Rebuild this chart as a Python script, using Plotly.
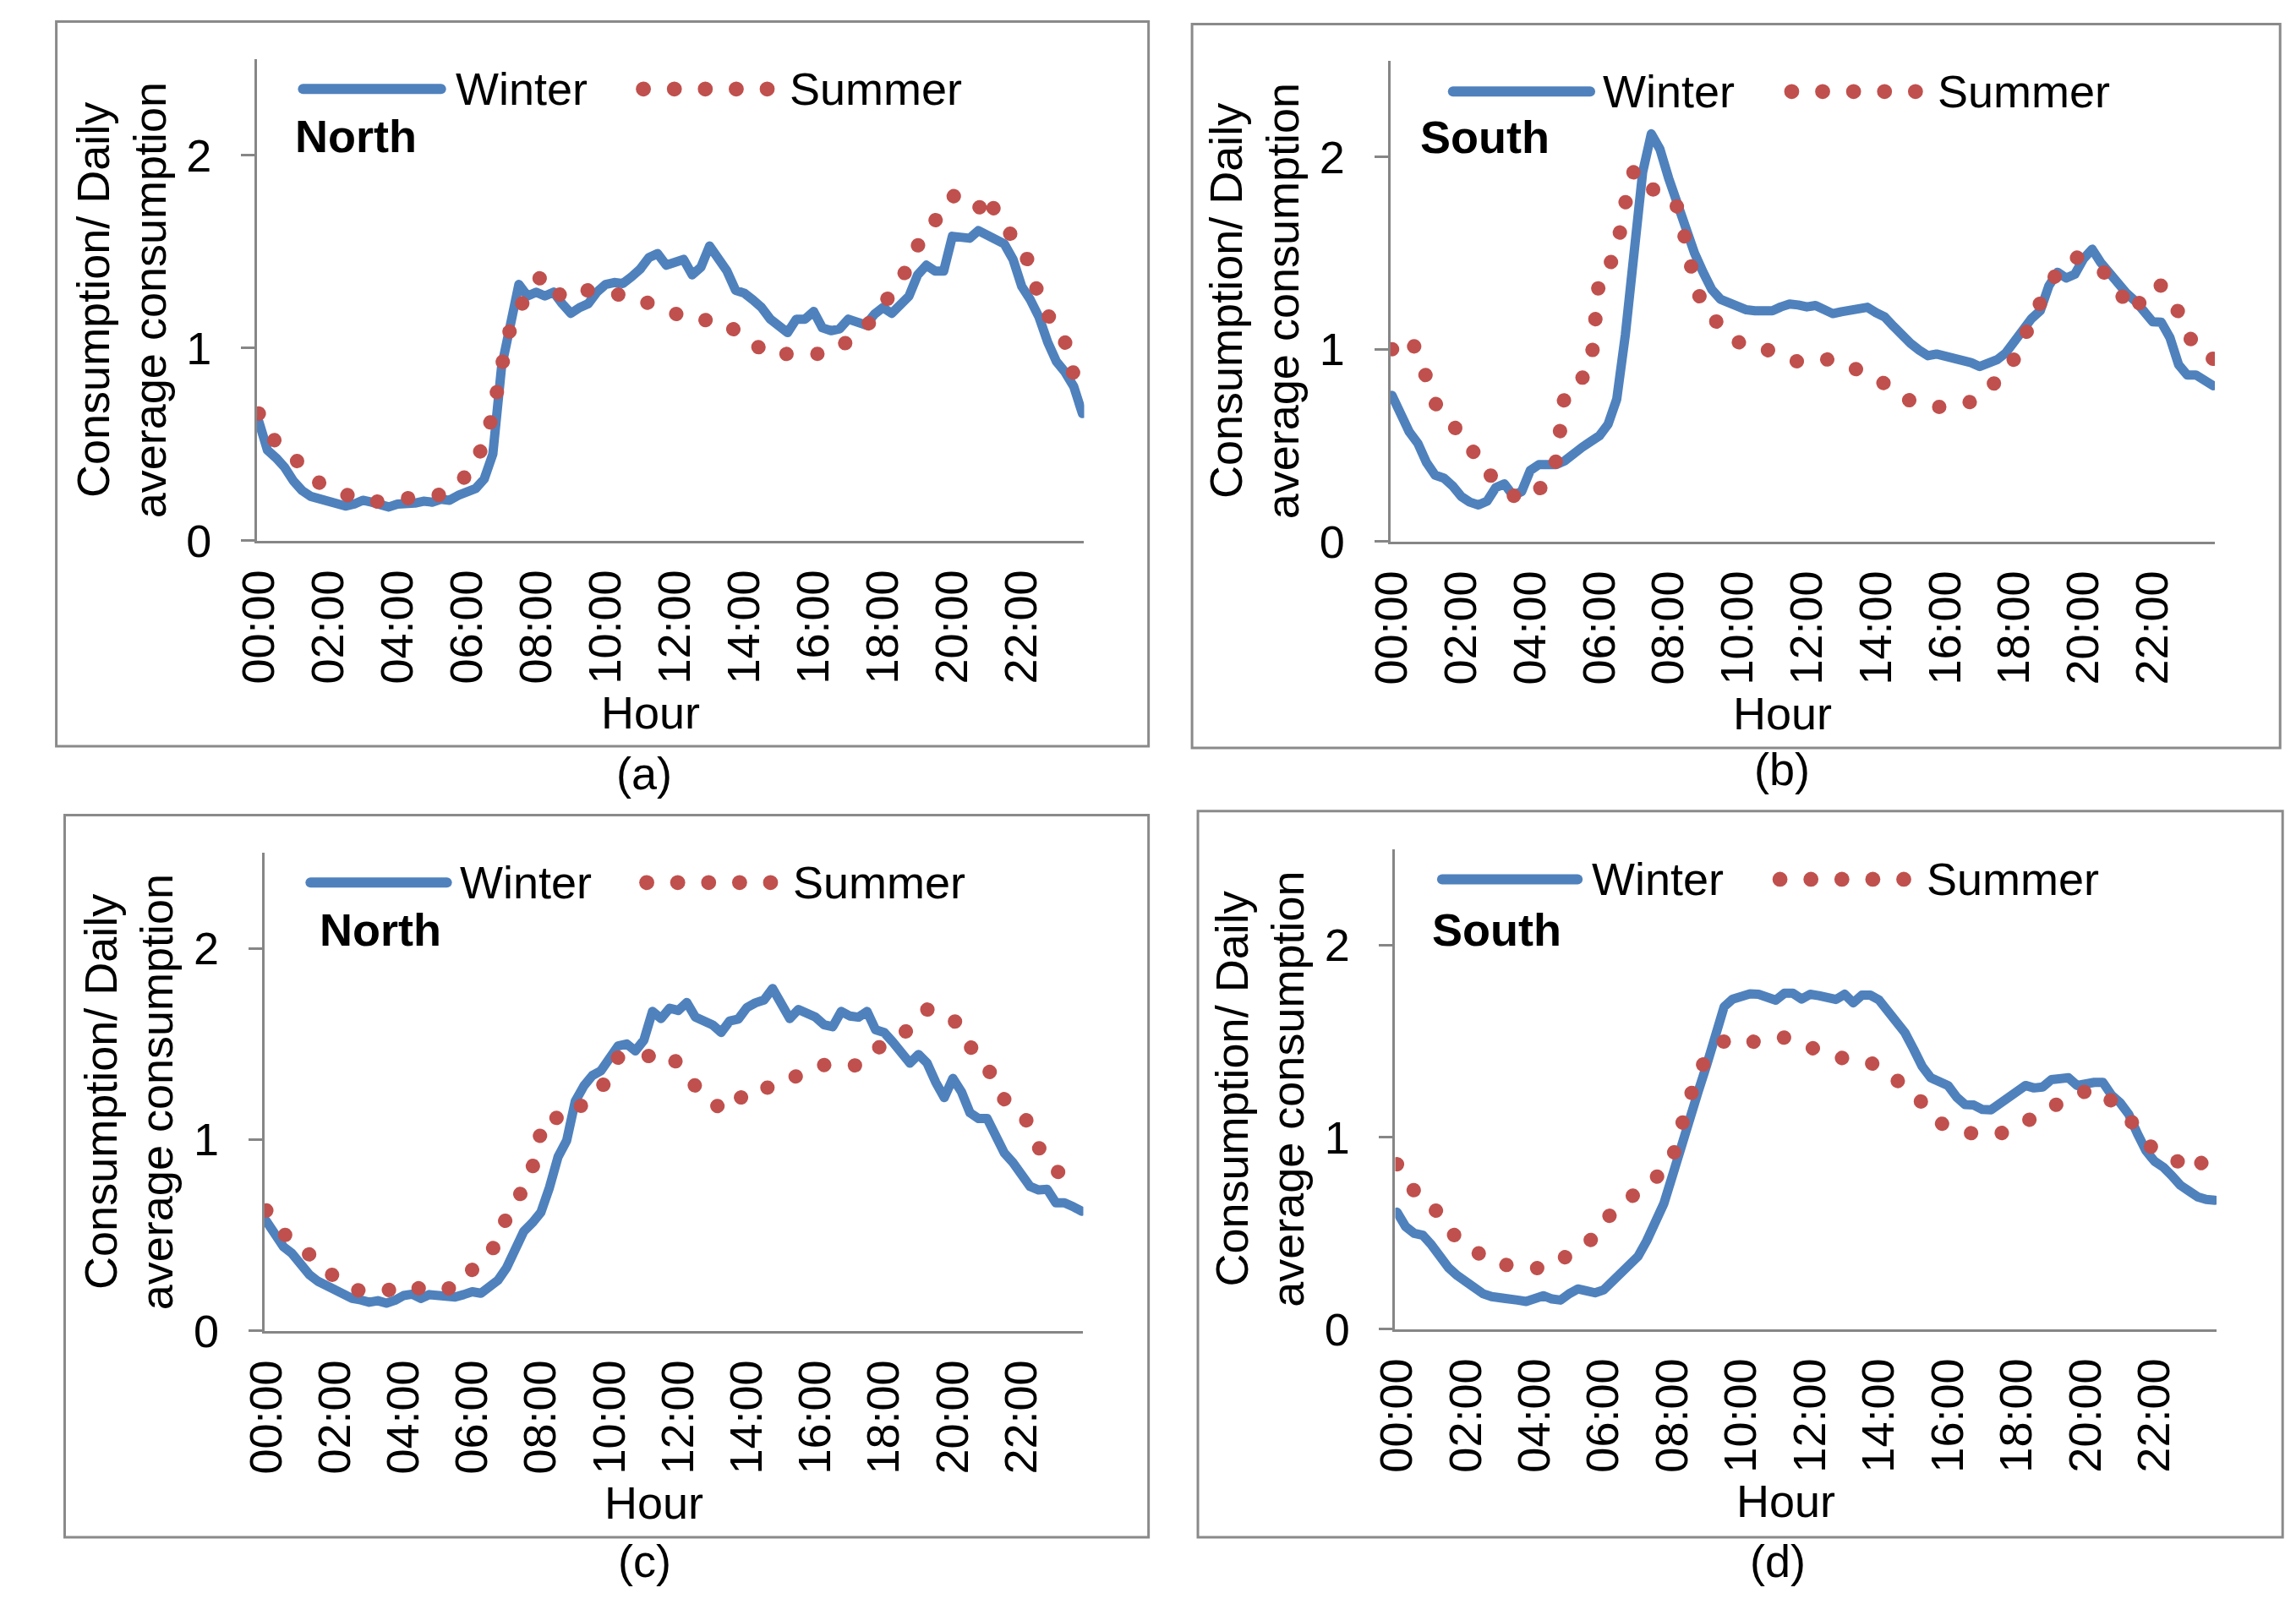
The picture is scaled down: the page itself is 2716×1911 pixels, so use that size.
import plotly.graph_objects as go

W, H = 2716, 1911
FONT = "Liberation Sans, Arial, sans-serif"
BLUE = "#4F81BD"
RED = "#C0504D"
GRAY = "#868686"
FS = 54

# 15-minute categories
times = [f"{h:02d}:{m:02d}" for h in range(24) for m in (0, 15, 30, 45)]
tick_labels = ["00:00", "02:00", "04:00", "06:00", "08:00", "10:00",
               "12:00", "14:00", "16:00", "18:00", "20:00", "22:00"]
y_ticks = [0, 1, 2]

north_winter_a = [
    0.62, 0.47, 0.43, 0.38, 0.31, 0.26, 0.23, 0.215,
    0.20, 0.185, 0.18, 0.19, 0.21, 0.20, 0.185, 0.175,
    0.19, 0.19, 0.195, 0.205, 0.20, 0.215, 0.21, 0.235,
    0.25, 0.27, 0.32, 0.45, 0.90, 1.12, 1.33, 1.27,
    1.29, 1.27, 1.29, 1.23, 1.18, 1.21, 1.23, 1.29,
    1.33, 1.34, 1.335, 1.37, 1.41, 1.47, 1.49, 1.43,
    1.44, 1.46, 1.38, 1.42, 1.53, 1.47, 1.40, 1.30,
    1.285, 1.25, 1.21, 1.15, 1.12, 1.08, 1.15, 1.15,
    1.19, 1.105, 1.09, 1.10, 1.15, 1.13, 1.12, 1.175,
    1.21, 1.18, 1.22, 1.27, 1.38, 1.43, 1.40, 1.40,
    1.58, 1.57, 1.57, 1.61, 1.59, 1.56, 1.54, 1.46,
    1.32, 1.25, 1.16, 1.03, 0.93, 0.875, 0.80, 0.66]
north_summer_a = [
    0.66, 0.57, 0.51, 0.47, 0.43, 0.39, 0.34, 0.30,
    0.28, 0.26, 0.24, 0.225, 0.21, 0.20, 0.205, 0.21,
    0.215, 0.22, 0.225, 0.23, 0.23, 0.24, 0.27, 0.30,
    0.34, 0.42, 0.50, 0.66, 0.90, 1.10, 1.20, 1.28,
    1.35, 1.38, 1.32, 1.26, 1.27, 1.29, 1.30, 1.29,
    1.285, 1.28, 1.275, 1.27, 1.26, 1.23, 1.21, 1.195,
    1.18, 1.16, 1.14, 1.14, 1.15, 1.15, 1.12, 1.09,
    1.06, 1.03, 0.99, 0.96, 0.965, 0.97, 0.97, 0.97,
    0.97, 0.97, 0.975, 1.00, 1.04, 1.07, 1.11, 1.16,
    1.22, 1.29, 1.36, 1.42, 1.53, 1.61, 1.66, 1.72,
    1.79, 1.78, 1.76, 1.72, 1.80, 1.70, 1.62, 1.58,
    1.53, 1.42, 1.26, 1.17, 1.12, 1.03, 0.86, 0.79]
south_winter_b = [
    0.76, 0.65, 0.57, 0.51, 0.41, 0.345, 0.33, 0.29,
    0.235, 0.205, 0.19, 0.21, 0.28, 0.30, 0.24, 0.26,
    0.37, 0.40, 0.395, 0.40, 0.42, 0.46, 0.49, 0.52,
    0.55, 0.61, 0.74, 1.075, 1.45, 1.92, 2.12, 2.04,
    1.89, 1.75, 1.61, 1.50, 1.40, 1.31, 1.26, 1.24,
    1.22, 1.205, 1.20, 1.20, 1.20, 1.22, 1.235, 1.23,
    1.22, 1.227, 1.20, 1.185, 1.195, 1.205, 1.215, 1.218,
    1.19, 1.168, 1.12, 1.067, 1.03, 0.995, 0.966, 0.975,
    0.966, 0.95, 0.945, 0.93, 0.91, 0.924, 0.945, 0.98,
    1.05, 1.10, 1.16, 1.20, 1.33, 1.40, 1.37, 1.39,
    1.47, 1.52, 1.45, 1.39, 1.34, 1.29, 1.25, 1.19,
    1.143, 1.14, 1.06, 0.92, 0.866, 0.866, 0.84, 0.81]
south_summer_b = [
    1.00, 1.02, 1.06, 0.98, 0.85, 0.72, 0.65, 0.60,
    0.57, 0.52, 0.39, 0.36, 0.32, 0.27, 0.24, 0.22,
    0.23, 0.27, 0.32, 0.42, 0.77, 0.80, 0.85, 0.90,
    1.38, 1.42, 1.52, 1.76, 1.93, 1.85, 1.83, 1.83,
    1.80, 1.74, 1.56, 1.35, 1.22, 1.17, 1.12, 1.07,
    1.04, 1.01, 1.00, 1.00, 0.99, 0.97, 0.95, 0.935,
    0.928, 0.935, 0.945, 0.95, 0.93, 0.91, 0.89, 0.87,
    0.85, 0.82, 0.79, 0.76, 0.73, 0.72, 0.71, 0.70,
    0.70, 0.71, 0.72, 0.726, 0.76, 0.79, 0.84, 0.89,
    0.95, 1.04, 1.16, 1.24, 1.33, 1.40, 1.45, 1.48,
    1.465, 1.44, 1.41, 1.38, 1.31, 1.24, 1.19, 1.30,
    1.33, 1.33, 1.28, 1.19, 1.09, 1.00, 0.97, 0.95]
north_winter_c = [
    0.575, 0.51, 0.44, 0.405, 0.345, 0.295, 0.26, 0.236,
    0.21, 0.19, 0.17, 0.162, 0.15, 0.158, 0.145, 0.16,
    0.185, 0.192, 0.17, 0.19, 0.185, 0.188, 0.177, 0.19,
    0.205, 0.197, 0.225, 0.265, 0.33, 0.42, 0.52, 0.565,
    0.62, 0.75, 0.91, 0.995, 1.20, 1.28, 1.335, 1.36,
    1.43, 1.49, 1.50, 1.464, 1.52, 1.67, 1.633, 1.687,
    1.675, 1.717, 1.64, 1.624, 1.60, 1.56, 1.62, 1.63,
    1.69, 1.715, 1.73, 1.79, 1.72, 1.633, 1.68, 1.66,
    1.64, 1.60, 1.59, 1.67, 1.646, 1.64, 1.67, 1.574,
    1.56, 1.51, 1.45, 1.40, 1.445, 1.40, 1.30, 1.22,
    1.32, 1.25, 1.14, 1.11, 1.11, 1.02, 0.93, 0.88,
    0.812, 0.755, 0.737, 0.74, 0.67, 0.67, 0.65, 0.626]
north_summer_c = [
    0.63, 0.57, 0.51, 0.47, 0.43, 0.40, 0.37, 0.32,
    0.28, 0.245, 0.22, 0.21, 0.205, 0.203, 0.21, 0.225,
    0.24, 0.235, 0.22, 0.206, 0.21, 0.22, 0.23, 0.26,
    0.32, 0.39, 0.42, 0.45, 0.60, 0.68, 0.74, 0.85,
    1.04, 1.13, 1.11, 1.10, 1.15, 1.19, 1.23, 1.27,
    1.33, 1.43, 1.43, 1.43, 1.433, 1.44, 1.45, 1.45,
    1.39, 1.33, 1.28, 1.225, 1.19, 1.165, 1.15, 1.20,
    1.265, 1.27, 1.272, 1.272, 1.29, 1.32, 1.335, 1.36,
    1.38, 1.39, 1.385, 1.38, 1.385, 1.39, 1.43, 1.47,
    1.50, 1.525, 1.55, 1.58, 1.63, 1.68, 1.675, 1.66,
    1.63, 1.58, 1.49, 1.42, 1.38, 1.29, 1.21, 1.17,
    1.14, 1.07, 0.96, 0.88, 0.835, 0.82, 0.81, 0.80]
south_winter_d = [
    0.61, 0.535, 0.50, 0.49, 0.44, 0.37, 0.32, 0.28,
    0.245, 0.215, 0.185, 0.17, 0.167, 0.165, 0.152, 0.145,
    0.158, 0.175, 0.158, 0.152, 0.185, 0.21, 0.20, 0.19,
    0.205, 0.245, 0.29, 0.33, 0.38, 0.46, 0.555, 0.655,
    0.80, 0.96, 1.11, 1.24, 1.38, 1.52, 1.68, 1.72,
    1.74, 1.747, 1.745, 1.735, 1.714, 1.75, 1.75, 1.72,
    1.745, 1.738, 1.722, 1.718, 1.745, 1.70, 1.74, 1.74,
    1.715, 1.66, 1.59, 1.545, 1.46, 1.37, 1.31, 1.295,
    1.27, 1.21, 1.17, 1.168, 1.145, 1.143, 1.175, 1.20,
    1.235, 1.27, 1.257, 1.262, 1.30, 1.305, 1.31, 1.27,
    1.28, 1.286, 1.286, 1.22, 1.18, 1.12, 1.02, 0.93,
    0.875, 0.845, 0.80, 0.75, 0.72, 0.69, 0.676, 0.672]
south_summer_d = [
    0.86, 0.80, 0.72, 0.69, 0.66, 0.58, 0.51, 0.48,
    0.455, 0.42, 0.37, 0.35, 0.34, 0.333, 0.33, 0.325,
    0.32, 0.316, 0.33, 0.36, 0.39, 0.42, 0.45, 0.48,
    0.55, 0.61, 0.64, 0.68, 0.72, 0.756, 0.79, 0.815,
    0.89, 1.05, 1.20, 1.34, 1.41, 1.46, 1.50, 1.518,
    1.51, 1.50, 1.495, 1.50, 1.51, 1.52, 1.51, 1.49,
    1.47, 1.45, 1.44, 1.42, 1.41, 1.40, 1.397, 1.39,
    1.36, 1.33, 1.30, 1.26, 1.225, 1.18, 1.12, 1.08,
    1.05, 1.035, 1.025, 1.02, 1.015, 1.013, 1.02, 1.03,
    1.05, 1.075, 1.11, 1.14, 1.155, 1.18, 1.20, 1.22,
    1.24, 1.255, 1.22, 1.19, 1.16, 1.10, 1.04, 0.98,
    0.93, 0.91, 0.885, 0.87, 0.85, 0.825, 0.92, 0.97]

panels = [
    dict(region="North", cap="(a)", winter=north_winter_a, summer=north_summer_a,
         plot=(278, 71, 1267, 650), box=(38, 26, 1344, 897), capxy=(741, 930),
         leg_y=107, wline=(333, 498), wtext=513, dots=[740, 777, 814, 851, 888],
         stext=913, reg_xy=(396, 164)),
    dict(region="South", cap="(b)", winter=south_winter_b, summer=south_summer_b,
         plot=(1633, 73, 2619, 651), box=(1396, 29, 2697, 899), capxy=(2101, 925),
         leg_y=110, wline=(1708, 1872), wtext=1885, dots=[2113, 2150, 2187, 2224, 2261],
         stext=2285, reg_xy=(1746, 165)),
    dict(region="North", cap="(c)", winter=north_winter_c, summer=north_summer_c,
         plot=(287, 1025, 1266, 1600), box=(48, 980, 1344, 1848), capxy=(741, 1876),
         leg_y=1061, wline=(342, 505), wtext=519, dots=[744, 781, 818, 855, 892],
         stext=917, reg_xy=(426, 1118)),
    dict(region="South", cap="(d)", winter=south_winter_d, summer=south_summer_d,
         plot=(1639, 1021, 2621, 1598), box=(1403, 975, 2700, 1848), capxy=(2096, 1876),
         leg_y=1057, wline=(1695, 1857), wtext=1872, dots=[2099, 2136, 2173, 2210, 2247],
         stext=2272, reg_xy=(1760, 1118)),
]


def X(px):
    return px / W


def Y(py):
    return 1 - py / H


fig = go.Figure()
layout = dict(width=W, height=H, margin=dict(l=0, r=0, t=0, b=0),
              paper_bgcolor="white", plot_bgcolor="white", showlegend=False,
              font=dict(family=FONT, size=FS, color="black"))
shapes = []
annotations = []


def txt(text, x, y, xanchor="center", yanchor="middle", angle=0):
    return dict(text=text, xref="paper", yref="paper", x=X(x), y=Y(y),
                xanchor=xanchor, yanchor=yanchor, textangle=angle, showarrow=False,
                font=dict(family=FONT, size=FS, color="black"))


for k, p in enumerate(panels, start=1):
    xa = "x" if k == 1 else f"x{k}"
    ya = "y" if k == 1 else f"y{k}"
    x0, y0, x1, y1 = p["plot"]
    fig.add_trace(go.Scatter(x=times, y=p["winter"], mode="lines",
                             line=dict(color=BLUE, width=11),
                             xaxis=xa, yaxis=ya, hoverinfo="skip"))
    fig.add_trace(go.Scatter(x=times, y=p["summer"], mode="lines",
                             line=dict(color=RED, width=17, dash="0.1px,36.5px", simplify=False),
                             xaxis=xa, yaxis=ya, hoverinfo="skip"))
    layout["xaxis" if k == 1 else f"xaxis{k}"] = dict(
        domain=[X(x0), X(x1)], anchor=ya, type="category", range=[-0.2, 95.2],
        tickmode="array", tickvals=tick_labels, ticktext=tick_labels, tickangle=-90,
        showline=True, linecolor=GRAY, linewidth=3, ticks="", showgrid=False,
        zeroline=False, tickfont=dict(family=FONT, size=FS, color="black"),
        ticklabelstandoff=10, fixedrange=True)
    layout["yaxis" if k == 1 else f"yaxis{k}"] = dict(
        domain=[Y(y1), Y(y0)], anchor=xa, range=[0, 2.5], tickmode="array",
        tickvals=y_ticks, ticktext=[str(v) for v in y_ticks],
        ticks="outside", ticklen=16, tickwidth=3, tickcolor=GRAY,
        showline=True, linecolor=GRAY, linewidth=3, showgrid=False, zeroline=False,
        tickfont=dict(family=FONT, size=FS, color="black"), ticklabelstandoff=24,
        fixedrange=True)

    # panel frame
    bx0, by0, bx1, by1 = p["box"]
    shapes.append(dict(type="rect", xref="paper", yref="paper",
                       x0=X(bx0), x1=X(bx1), y0=Y(by1), y1=Y(by0),
                       line=dict(color="#8A8A8A", width=3), fillcolor="rgba(0,0,0,0)"))
    # legend: winter line
    ly = p["leg_y"]
    shapes.append(dict(type="line", xref="paper", yref="paper",
                       x0=X(p["wline"][0]), x1=X(p["wline"][1]), y0=Y(ly), y1=Y(ly),
                       line=dict(color=BLUE, width=12)))
    # legend: summer dots
    for cx in p["dots"]:
        shapes.append(dict(type="circle", xref="paper", yref="paper",
                           x0=X(cx - 9), x1=X(cx + 9), y0=Y(ly + 9), y1=Y(ly - 9),
                           line=dict(width=0), fillcolor=RED))
    annotations.append(txt("Winter", p["wtext"], ly, xanchor="left"))
    annotations.append(txt("Summer", p["stext"], ly, xanchor="left"))
    rx, ry = p["reg_xy"]
    annotations.append(txt("<b>" + p["region"] + "</b>", rx, ry))
    # y title (two lines)
    yc = (y0 + y1) / 2
    annotations.append(txt("Consumption/ Daily", x0 - 196, yc, angle=-90))
    annotations.append(txt("average consumption", x0 - 129, yc, angle=-90))
    # x title
    annotations.append(txt("Hour", (x0 + x1) / 2 - 24, y1 + 206))
    cx, cy = p["capxy"]
    annotations.append(txt(p["cap"], cx, cy))

layout["shapes"] = shapes
layout["annotations"] = annotations
fig.update_layout(**layout)

post = """
document.documentElement.style.margin = '0';
document.documentElement.style.padding = '0';
document.body.style.margin = '0';
document.body.style.padding = '0';
document.body.style.overflow = 'hidden';
var gd = document.getElementById('{plot_id}');
function fixCaps(){
  var ps = gd.querySelectorAll('.scatterlayer path.js-line');
  for (var i = 0; i < ps.length; i++) {
    ps[i].style.strokeLinecap = 'round';
    ps[i].style.strokeLinejoin = 'round';
  }
  var ss = gd.querySelectorAll('.shapelayer path');
  for (var j = 0; j < ss.length; j++) { ss[j].style.strokeLinecap = 'round'; }
}
fixCaps();
if (gd.on) { gd.on('plotly_afterplot', fixCaps); }
"""

fig.write_html("out.html", post_script=post, config={"displayModeBar": False})
